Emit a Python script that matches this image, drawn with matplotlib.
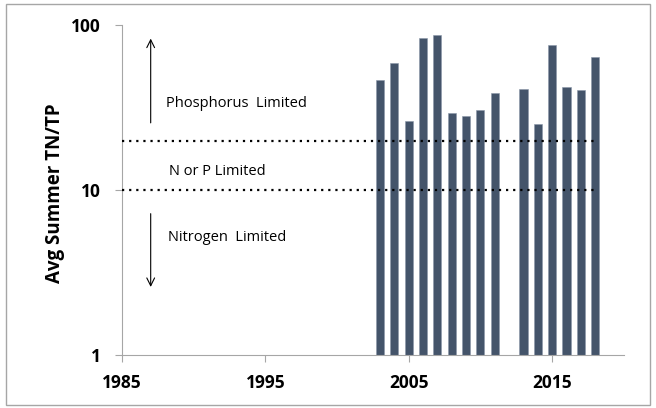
import matplotlib
matplotlib.use("Agg")
from matplotlib import pyplot as plt
from matplotlib.patches import Rectangle

years = [2003, 2004, 2005, 2006, 2007, 2008, 2009, 2010, 2011,
         2013, 2014, 2015, 2016, 2017, 2018]
ratio = [46.5, 59, 26.4, 83, 86.7, 29.4, 28.3, 30.7, 38.8,
         41, 25.3, 75.5, 42.2, 40.6, 64.2]
x_ticks = [1985, 1995, 2005, 2015]
y_ticks = [1, 10, 100]
limits = [10, 20]

plt.rcParams['font.family'] = ['Open Sans', 'DejaVu Sans']

fig = plt.figure(figsize=(6.56, 4.08), dpi=100)
ax = fig.add_axes([0.186, 0.1287, 0.765, 0.81])

ax.bar(years, ratio, width=0.56, color='#44546a', edgecolor='#8a97a8', linewidth=0.4, zorder=2)

for v in limits:
    ax.plot([1985, 2018], [v, v], color='black', linestyle=(0, (1, 2.2)), linewidth=1.6, zorder=3)

ax.annotate('', xy=(1987, 86), xytext=(1987, 24.6),
            arrowprops=dict(arrowstyle='->', color='black', lw=0.8, mutation_scale=14))
ax.annotate('', xy=(1987, 2.5), xytext=(1987, 7.5),
            arrowprops=dict(arrowstyle='->', color='black', lw=0.8, mutation_scale=14))

ax.text(1988.1, 33.4, 'Phosphorus  Limited', fontsize=10.5, va='center', ha='left')
ax.text(1988.3, 13.0, 'N or P Limited', fontsize=10.5, va='center', ha='left')
ax.text(1988.2, 5.2, 'Nitrogen  Limited', fontsize=10.5, va='center', ha='left')

ax.set_yscale('log')
ax.set_ylim(1, 100)
ax.set_xlim(1985, 2020)
ax.set_yticks(y_ticks)
ax.set_yticklabels([str(t) for t in y_ticks])
ax.yaxis.set_minor_locator(matplotlib.ticker.NullLocator())
ax.set_xticks(x_ticks)
ax.set_xticklabels([str(t) for t in x_ticks])

for lab in ax.get_xticklabels() + ax.get_yticklabels():
    lab.set_fontweight('bold')
    lab.set_fontsize(12.5)

ax.tick_params(axis='both', direction='out', length=5, color='#a6a6a6', width=0.8)
ax.tick_params(axis='x', pad=8)
ax.tick_params(axis='y', pad=10)
ax.spines['top'].set_visible(False)
ax.spines['right'].set_visible(False)
ax.spines['left'].set_color('#a6a6a6')
ax.spines['bottom'].set_color('#a6a6a6')

ax.set_ylabel('Avg Summer TN/TP', fontsize=13.5, fontweight='bold')
ax.yaxis.set_label_coords(-0.113, 0.49)

fig.patches.append(Rectangle((0.009, 0.008), 0.982, 0.982, transform=fig.transFigure,
                             fill=False, edgecolor='#a6a6a6', linewidth=1))

fig.savefig('out.png', dpi=100)
